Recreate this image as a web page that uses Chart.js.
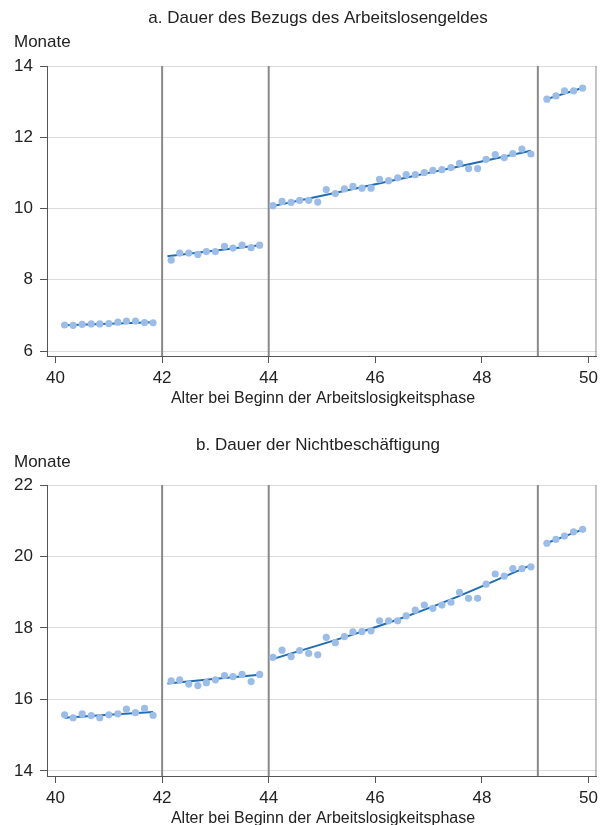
<!DOCTYPE html>
<html>
<head>
<meta charset="utf-8">
<script src="https://cdn.jsdelivr.net/npm/chart.js@4.4.1/dist/chart.umd.min.js"></script>
<style>
  body { margin: 0; background: #fff; }
  .panel { position: relative; width: 603px; }
</style>
</head>
<body>
<div class="panel" style="height:412px"><canvas id="chartA"></canvas></div>
<div class="panel" style="height:413px"><canvas id="chartB"></canvas></div>
<script>
// ages (bin midpoints)
var ageSeg1 = [40.17, 40.33, 40.5, 40.67, 40.83, 41.0, 41.17, 41.33, 41.5, 41.67, 41.83];
var ageSeg2 = [42.17, 42.33, 42.5, 42.67, 42.83, 43.0, 43.17, 43.33, 43.5, 43.67, 43.83];
var ageSeg3 = [44.08, 44.25, 44.42, 44.58, 44.75, 44.92, 45.08, 45.25, 45.42, 45.58,
               45.75, 45.92, 46.08, 46.25, 46.42, 46.58, 46.75, 46.92, 47.08, 47.25,
               47.42, 47.58, 47.75, 47.92, 48.08, 48.25, 48.42, 48.58, 48.75, 48.92];
var ageSeg4 = [49.22, 49.39, 49.55, 49.72, 49.89];

// a. Dauer des Bezugs des Arbeitslosengeldes (Monate)
var bezug1 = [6.73, 6.72, 6.75, 6.76, 6.76, 6.77, 6.81, 6.84, 6.84, 6.80, 6.79];
var bezug2 = [8.55, 8.75, 8.75, 8.71, 8.79, 8.79, 8.94, 8.89, 8.97, 8.90, 8.97];
var bezug3 = [10.08, 10.20, 10.17, 10.23, 10.23, 10.18, 10.53, 10.42, 10.55, 10.62,
              10.57, 10.57, 10.82, 10.78, 10.86, 10.95, 10.95, 11.01, 11.07, 11.09,
              11.15, 11.27, 11.12, 11.12, 11.38, 11.51, 11.43, 11.54, 11.67, 11.53];
var bezug4 = [13.07, 13.16, 13.30, 13.30, 13.38];

// b. Dauer der Nichtbeschäftigung (Monate)
var nichtb1 = [15.57, 15.49, 15.60, 15.55, 15.49, 15.57, 15.60, 15.73, 15.63, 15.75, 15.56];
var nichtb2 = [16.52, 16.55, 16.43, 16.39, 16.47, 16.55, 16.67, 16.64, 16.70, 16.50, 16.70];
var nichtb3 = [17.18, 17.38, 17.20, 17.37, 17.29, 17.25, 17.74, 17.59, 17.76, 17.89,
               17.90, 17.92, 18.20, 18.20, 18.20, 18.34, 18.50, 18.64, 18.55, 18.64,
               18.72, 19.00, 18.83, 18.83, 19.23, 19.51, 19.45, 19.66, 19.66, 19.71];
var nichtb4 = [20.37, 20.48, 20.57, 20.69, 20.76];

// fitted lines per segment
var fitAge1 = [40.17, 41.83];
var fitAge2 = [42.1, 43.83];
var fitAge3 = [44.05, 45.5, 46.5, 47.5, 48.92];
var fitAge4 = [49.17, 49.9];
var fitBezug1 = [6.72, 6.81];
var fitBezug2 = [8.66, 8.97];
var fitBezug3 = [10.06, 10.52, 10.84, 11.16, 11.62];
var fitBezug4 = [13.05, 13.39];
var fitNichtb1 = [15.49, 15.65];
var fitNichtb2 = [16.45, 16.69];
var fitNichtb3 = [17.12, 17.78, 18.28, 18.85, 19.76];
var fitNichtb4 = [20.35, 20.76];

var breakAges = [42, 44, 49.05];
var xTicks = [40, 42, 44, 46, 48, 50];
var yTicksA = [6, 8, 10, 12, 14];
var yTicksB = [14, 16, 18, 20, 22];

var FONT = '"Liberation Sans", Arial, sans-serif';

function pts(xs, ys) {
    return xs.map(function (x, i) { return { x: x, y: ys[i] }; });
}

function buildPanel(id, opts) {
    var ctx = document.getElementById(id).getContext('2d');
    var datasets = [];

    opts.points.forEach(function (p) {
        datasets.push({
            type: 'scatter',
            data: pts(p[0], p[1]),
            backgroundColor: '#9dbde9',
            borderWidth: 0,
            pointRadius: 3.6,
            order: 1
        });
    });
    opts.fits.forEach(function (f) {
        datasets.push({
            type: 'line',
            data: pts(f[0], f[1]),
            borderColor: '#1f6db3',
            borderWidth: 2,
            pointRadius: 0,
            tension: 0.4,
            fill: false,
            order: 2
        });
    });
    breakAges.forEach(function (a) {
        datasets.push({
            type: 'line',
            data: [{ x: a, y: opts.yMin }, { x: a, y: opts.yMax }],
            borderColor: '#8a8a8a',
            borderWidth: 2,
            pointRadius: 0,
            fill: false,
            order: 3
        });
    });

    var textPlugin = {
        id: 'texts',
        afterDraw: function (chart) {
            var c = chart.ctx, a = chart.chartArea;
            c.save();
            // frame on the right side
            c.strokeStyle = '#8a8a8a';
            c.lineWidth = 1;
            c.beginPath();
            c.moveTo(a.right - 0.5, a.top);
            c.lineTo(a.right - 0.5, a.bottom);
            c.stroke();

            c.fillStyle = '#222';
            c.textBaseline = 'middle';
            c.font = '17px ' + FONT;
            c.textAlign = 'center';
            c.fillText(opts.title, 318, opts.titleY);
            c.font = '16px ' + FONT;
            c.fillText('Alter bei Beginn der Arbeitslosigkeitsphase', 323, a.bottom + 43);
            c.font = '17px ' + FONT;
            c.textAlign = 'left';
            c.fillText('Monate', 14, opts.monateY);
            c.restore();
        }
    };

    return new Chart(ctx, {
        data: { datasets: datasets },
        options: {
            responsive: true,
            maintainAspectRatio: false,
            animation: false,
            layout: { padding: { top: opts.top, right: 3, left: 0, bottom: 0 } },
            plugins: { legend: { display: false }, tooltip: { enabled: false } },
            scales: {
                x: {
                    type: 'linear',
                    min: 39.84,
                    max: 50.15,
                    afterBuildTicks: function (s) { s.ticks = xTicks.map(function (v) { return { value: v }; }); },
                    afterFit: function (s) { s.height = opts.bottomSpace; },
                    ticks: { color: '#222', font: { family: FONT, size: 17 }, padding: 5, maxRotation: 0 },
                    grid: { drawOnChartArea: false, tickLength: 7, tickColor: '#555', color: '#555' },
                    border: { color: '#555', width: 1 }
                },
                y: {
                    type: 'linear',
                    min: opts.yMin,
                    max: opts.yMax,
                    afterBuildTicks: function (s) { s.ticks = opts.yTicks.map(function (v) { return { value: v }; }); },
                    afterFit: function (s) { s.width = 47; },
                    ticks: { color: '#222', font: { family: FONT, size: 17 }, padding: 7 },
                    grid: { color: '#dcdcdc', lineWidth: 1, tickLength: 7, tickColor: '#555' },
                    border: { color: '#555', width: 1 }
                }
            }
        },
        plugins: [textPlugin]
    });
}

buildPanel('chartA', {
    title: 'a. Dauer des Bezugs des Arbeitslosengeldes',
    titleY: 18, monateY: 42, top: 66, bottomSpace: 56,
    yMin: 5.86, yMax: 14, yTicks: yTicksA,
    points: [[ageSeg1, bezug1], [ageSeg2, bezug2], [ageSeg3, bezug3], [ageSeg4, bezug4]],
    fits: [[fitAge1, fitBezug1], [fitAge2, fitBezug2], [fitAge3, fitBezug3], [fitAge4, fitBezug4]]
});

buildPanel('chartB', {
    title: 'b. Dauer der Nichtbeschäftigung',
    titleY: 33, monateY: 50, top: 73, bottomSpace: 49,
    yMin: 13.86, yMax: 22, yTicks: yTicksB,
    points: [[ageSeg1, nichtb1], [ageSeg2, nichtb2], [ageSeg3, nichtb3], [ageSeg4, nichtb4]],
    fits: [[fitAge1, fitNichtb1], [fitAge2, fitNichtb2], [fitAge3, fitNichtb3], [fitAge4, fitNichtb4]]
});
</script>
</body>
</html>
